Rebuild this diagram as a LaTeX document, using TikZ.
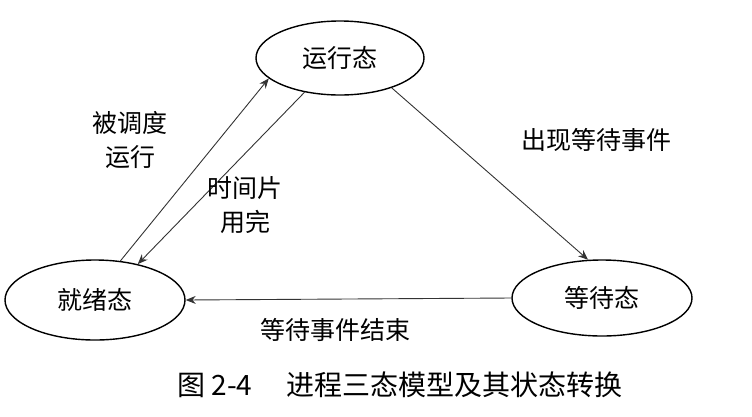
\documentclass[tikz,border=0pt]{standalone}
\usepackage{fontspec}
\setmainfont{Noto Sans CJK SC}
\usetikzlibrary{positioning, shapes, arrows.meta}
\tikzset{
    state/.style={draw, ellipse, line width=1.4pt, font=\fontsize{25}{30}\selectfont},
    lbl/.style={font=\fontsize{25}{34}\selectfont, align=center},
    trans/.style={-{Stealth[length=10pt,width=8pt]}, line width=0.9pt, draw=black!80}
}
\begin{document}
\begin{tikzpicture}[x=1pt, y=-1pt]
    \useasboundingbox (0,0) rectangle (752,416);
    % States
    \node[state, minimum width=168pt, minimum height=74pt] (run) at (340,58) {运行态};
    \node[state, minimum width=180pt, minimum height=80pt] (ready) at (95,300) {就绪态};
    \node[state, minimum width=180pt, minimum height=76pt] (wait) at (602,298) {等待态};
    % Transitions
    \draw[trans] (ready.57) -- (run.196);
    \draw[trans] (run.224) -- (ready.40);
    \draw[trans] (run.-30) -- (wait.110);
    \draw[trans] (wait.180) -- (ready.0);
    % Labels
    \node[lbl] (sched) at (130,140) {被调度\\运行};
    \node[lbl] (slice) at (245,205) {时间片\\用完};
    \node[lbl] (evt) at (596,140) {出现等待事件};
    \node[lbl] (done) at (335,330) {等待事件结束};
    \node[lbl, font=\fontsize{28}{34}\selectfont] (cap) at (400,385) {图 2-4\quad\ 进程三态模型及其状态转换};
\end{tikzpicture}
\end{document}
